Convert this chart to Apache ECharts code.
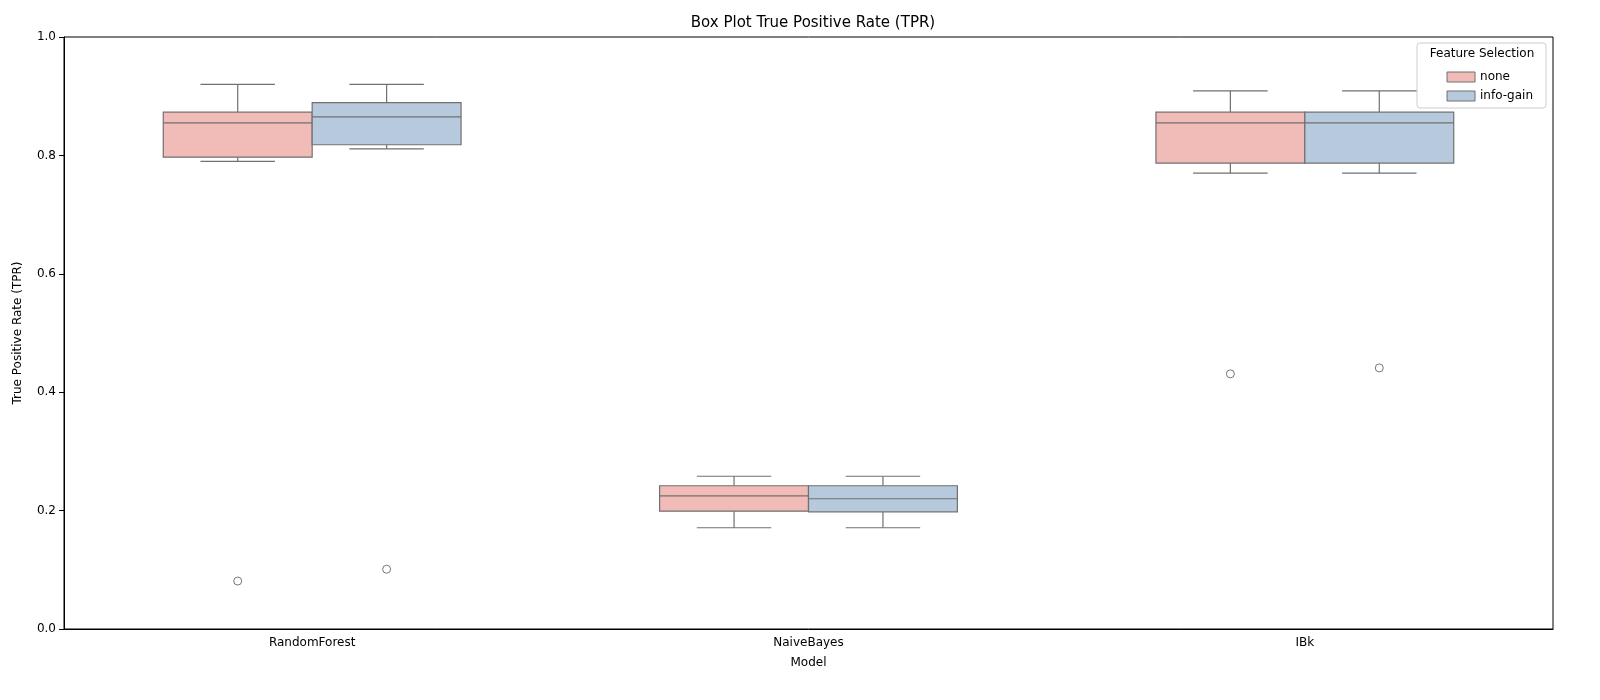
<!DOCTYPE html>
<html>
<head>
<meta charset="utf-8">
<script src="https://cdn.jsdelivr.net/npm/echarts@6/dist/echarts.min.js"></script>
<style>html,body{margin:0;background:#fff}#c{width:1600px;height:700px}</style>
</head>
<body>
<div id="c"></div>
<script>
const models = ["RandomForest", "NaiveBayes", "IBk"];
// [low whisker, Q1, median, Q3, high whisker]
const noneStats = [
  [0.79, 0.797, 0.855, 0.873, 0.92],
  [0.171, 0.199, 0.225, 0.242, 0.258],
  [0.77, 0.787, 0.855, 0.873, 0.909]
];
const infoStats = [
  [0.811, 0.818, 0.865, 0.889, 0.92],
  [0.171, 0.198, 0.22, 0.242, 0.258],
  [0.77, 0.787, 0.855, 0.873, 0.909]
];
const noneOutliers = [0.081, null, 0.431];
const infoOutliers = [0.101, null, 0.441];

const colors = { none: "#f1bbb7", info: "#b7cadd" };
const lineColor = "#707070";
const half = 0.3; // box width in category units

function boxRender(fill, shift) {
  return function (params, api) {
    const i = api.value(0);
    const c = i + shift;
    const lo = api.value(1), q1 = api.value(2), med = api.value(3), q3 = api.value(4), hi = api.value(5);
    const pL = api.coord([c - half / 2, q3]);
    const pR = api.coord([c + half / 2, q1]);
    const cx = api.coord([c, 0])[0];
    const capL = api.coord([c - half / 4, 0])[0];
    const capR = api.coord([c + half / 4, 0])[0];
    const y = v => api.coord([c, v])[1];
    const ls = { stroke: lineColor, lineWidth: 1.2 };
    return {
      type: "group",
      children: [
        { type: "line", shape: { x1: cx, y1: y(q3), x2: cx, y2: y(hi) }, style: ls },
        { type: "line", shape: { x1: cx, y1: y(q1), x2: cx, y2: y(lo) }, style: ls },
        { type: "line", shape: { x1: capL, y1: y(hi), x2: capR, y2: y(hi) }, style: ls },
        { type: "line", shape: { x1: capL, y1: y(lo), x2: capR, y2: y(lo) }, style: ls },
        { type: "rect", shape: { x: pL[0], y: pL[1], width: pR[0] - pL[0], height: pR[1] - pL[1] },
          style: { fill: fill, stroke: lineColor, lineWidth: 1.2 } },
        { type: "line", shape: { x1: pL[0], y1: y(med), x2: pR[0], y2: y(med) }, style: ls }
      ]
    };
  };
}

function outlierData(arr, shift) {
  const out = [];
  arr.forEach((v, i) => { if (v !== null) out.push([i + shift, v]); });
  return out;
}

const chart = echarts.init(document.getElementById("c"));
const txt = { color: "#000", fontFamily: "DejaVu Sans", fontSize: 12 };
chart.setOption({
  animation: false,
  title: { text: "Box Plot True Positive Rate (TPR)", left: 808, textAlign: "center", top: 11,
    textStyle: { color: "#000", fontFamily: "DejaVu Sans", fontSize: 15, fontWeight: "normal" } },
  grid: { left: 64, right: 47, top: 37, bottom: 71, show: true, borderColor: "#000", borderWidth: 1 },
  legend: {
    orient: "vertical", right: 62, top: 66, itemWidth: 28, itemHeight: 10, itemGap: 7,
    icon: "rect", textStyle: txt,
    data: [
      { name: "none", itemStyle: { color: colors.none, borderColor: lineColor, borderWidth: 1 } },
      { name: "info-gain", itemStyle: { color: colors.info, borderColor: lineColor, borderWidth: 1 } }
    ]
  },
  graphic: [
    { type: "rect", shape: { x: 1417, y: 43, width: 129, height: 65, r: 3 },
      style: { fill: "rgba(255,255,255,0.8)", stroke: "#ccc" }, z: 0 },
    { type: "text", x: 1482, y: 48, style: { text: "Feature Selection", fill: "#000",
      font: "12px DejaVu Sans", textAlign: "center" }, z: 10 }
  ],
  xAxis: [
    { type: "category", data: models, name: "Model", nameLocation: "middle", nameGap: 28,
      nameTextStyle: txt, axisLabel: Object.assign({ margin: 8 }, txt),
      axisTick: { alignWithLabel: true, lineStyle: { color: "#000" } },
      axisLine: { onZero: false, lineStyle: { color: "#000" } }, splitLine: { show: false } },
    { type: "value", min: -0.5, max: 2.5, show: false }
  ],
  yAxis: {
    type: "value", min: 0, max: 1, interval: 0.2, name: "True Positive Rate (TPR)",
    nameLocation: "middle", nameGap: 40, nameTextStyle: txt,
    axisLabel: Object.assign({ formatter: v => v.toFixed(1) }, txt),
    axisTick: { show: true, lineStyle: { color: "#000" } },
    axisLine: { show: true, onZero: false, lineStyle: { color: "#000" } }, splitLine: { show: false }
  },
  series: [
    { name: "none", type: "custom", xAxisIndex: 1, renderItem: boxRender(colors.none, -half / 2),
      itemStyle: { color: colors.none }, data: noneStats.map((s, i) => [i].concat(s)) },
    { name: "info-gain", type: "custom", xAxisIndex: 1, renderItem: boxRender(colors.info, half / 2),
      itemStyle: { color: colors.info }, data: infoStats.map((s, i) => [i].concat(s)) },
    { type: "scatter", xAxisIndex: 1, symbolSize: 8, data: outlierData(noneOutliers, -half / 2),
      itemStyle: { color: "#fff", borderColor: "#555", borderWidth: 1 } },
    { type: "scatter", xAxisIndex: 1, symbolSize: 8, data: outlierData(infoOutliers, half / 2),
      itemStyle: { color: "#fff", borderColor: "#555", borderWidth: 1 } }
  ]
});
</script>
</body>
</html>
